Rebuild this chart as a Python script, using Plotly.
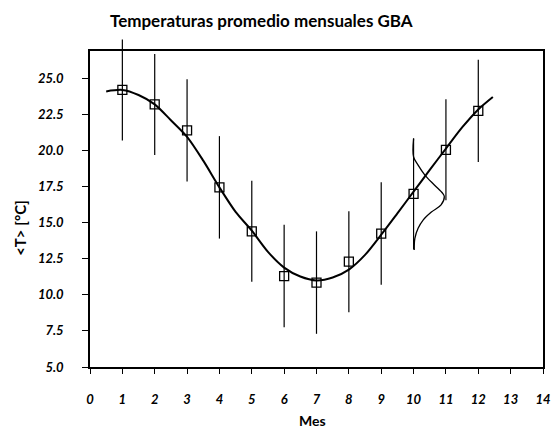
import plotly.graph_objects as go

# --- data ---
months = [1, 2, 3, 4, 5, 6, 7, 8, 9, 10, 11, 12]
temp_mean = [24.2, 23.2, 21.4, 17.45, 14.4, 11.3, 10.85, 12.3, 14.25, 17.0, 20.05, 22.75]
temp_err = [3.5, 3.5, 3.55, 3.55, 3.5, 3.55, 3.55, 3.5, 3.55, 3.85, 3.5, 3.55]

curve_x = [0.5, 1.0, 1.5, 2.0, 2.5, 3.0, 3.5, 4.0, 4.5, 5.0, 5.5, 6.0, 6.5, 7.0,
           7.5, 8.0, 8.5, 9.0, 9.5, 10.0, 10.5, 11.0, 11.5, 12.0, 12.45]
curve_y = [24.1, 24.2, 23.85, 23.2, 22.1, 20.95, 19.3, 17.45, 15.75, 14.45, 12.98,
           11.89, 11.27, 11.0, 11.2, 11.75, 12.77, 14.17, 15.65, 17.15, 18.66, 20.14,
           21.6, 22.85, 23.71]

gauss_x = [10.0, 10.0, 10.14, 10.35, 10.65, 10.9, 10.95, 10.85, 10.55, 10.3, 10.14, 10.04, 10.02]
gauss_y = [20.83, 19.56, 18.99, 18.3, 17.6, 17.03, 16.8, 16.24, 15.74, 15.2, 14.61, 13.92, 13.11]

x_ticks = list(range(0, 15))
y_ticks = [5.0, 7.5, 10.0, 12.5, 15.0, 17.5, 20.0, 22.5, 25.0]
y_range = [5, 26.9]

title_text = "Temperaturas promedio mensuales GBA"
x_title = "Mes"
y_title = "&lt;T&gt; [°C]"

FONT = "Lato"

fig = go.Figure()

fig.add_trace(go.Scatter(
    x=curve_x, y=curve_y, mode="lines",
    line=dict(color="black", width=2, shape="spline", smoothing=0.8),
    hoverinfo="skip", showlegend=False))

fig.add_trace(go.Scatter(
    x=gauss_x, y=gauss_y, mode="lines",
    line=dict(color="black", width=1.3, shape="spline", smoothing=1.0),
    hoverinfo="skip", showlegend=False))

fig.add_trace(go.Scatter(
    x=months, y=temp_mean, mode="markers",
    marker=dict(symbol="square-open", size=9, color="black", line=dict(width=1.3)),
    error_y=dict(type="data", array=temp_err, visible=True, color="black",
                 thickness=1.2, width=0),
    cliponaxis=False, showlegend=False))

# error bars that reach above the frame are continued outside the plot area
span = y_range[1] - y_range[0]
for m, t, e in zip(months, temp_mean, temp_err):
    top = t + e
    if top > y_range[1]:
        fig.add_shape(type="line", xref="x", yref="paper",
                      x0=m, x1=m, y0=1.0, y1=(top - y_range[0]) / span,
                      line=dict(color="black", width=1.2), layer="above")

# page body has an 8px margin, so the figure is 8px smaller than the window
fig.update_layout(
    width=551, height=422,
    margin=dict(l=82, r=8, t=43, b=63),
    paper_bgcolor="white", plot_bgcolor="white",
    font=dict(family=FONT, color="black"),
    showlegend=False,
)

fig.update_xaxes(
    range=[0, 14], tickvals=x_ticks, ticktext=[str(v) for v in x_ticks],
    showgrid=False, zeroline=False,
    showline=True, linecolor="black", linewidth=1.5, mirror=True,
    ticks="outside", ticklen=5, tickwidth=1.2, tickcolor="black",
    tickfont=dict(family=FONT, size=13, weight="bold", style="italic", color="black"),
    ticklabelstandoff=15,
)
fig.update_yaxes(
    range=y_range, tickvals=y_ticks, ticktext=[f"{v:.1f}" for v in y_ticks],
    showgrid=False, zeroline=False,
    showline=True, linecolor="black", linewidth=1.5, mirror=True,
    ticks="outside", ticklen=6, tickwidth=1.2, tickcolor="black",
    tickfont=dict(family=FONT, size=13, weight="bold", style="italic", color="black"),
    ticklabelstandoff=16,
)

PW, PH = 461.0, 316.0
fig.add_annotation(text=f"<b>{title_text}</b>", xref="paper", yref="paper",
                   x=(265 - 90.4) / PW, y=1 + (51 - 21) / PH, xanchor="center", yanchor="middle",
                   showarrow=False, font=dict(family=FONT, size=17, color="black"))
fig.add_annotation(text=f"<b>{x_title}</b>", xref="paper", yref="paper",
                   x=(317 - 90.4) / PW, y=-(420 - 367) / PH, xanchor="center", yanchor="middle",
                   showarrow=False, font=dict(family=FONT, size=14, color="black"))
fig.add_annotation(text=f"<b>{y_title}</b>", xref="paper", yref="paper",
                   x=-(90.4 - 19) / PW, y=(367 - 228) / PH, xanchor="center", yanchor="middle",
                   textangle=-90,
                   showarrow=False, font=dict(family=FONT, size=15, color="black"))

fig.write_html("out.html")
